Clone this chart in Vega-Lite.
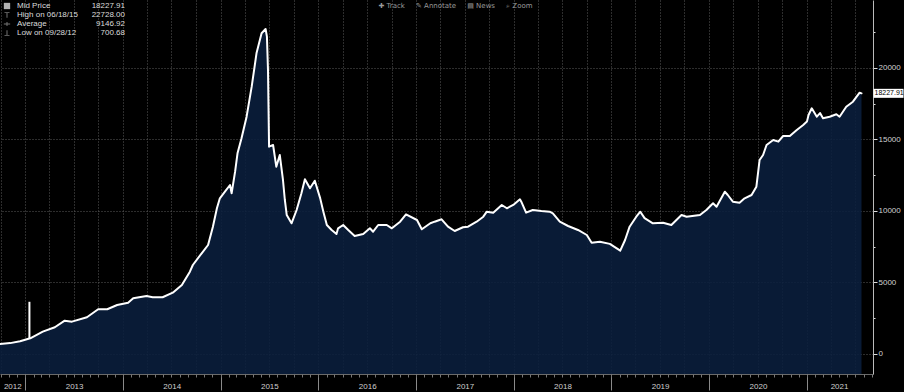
{
  "$schema": "https://vega.github.io/schema/vega-lite/v6.json",
  "width": 873,
  "height": 374,
  "autosize": {"type": "none"},
  "padding": {"left": 0, "top": 0, "right": 31, "bottom": 18},
  "background": "#000000",
  "config": {
    "view": {"stroke": null},
    "font": "Liberation Sans",
    "legend": {"padding": 0}
  },
  "datasets": {
    "series": [
      {"date": "2012-09-28", "price": 701},
      {"date": "2012-11-05", "price": 760},
      {"date": "2012-12-12", "price": 888},
      {"date": "2013-01-19", "price": 1097},
      {"date": "2013-03-07", "price": 1560},
      {"date": "2013-04-21", "price": 1867},
      {"date": "2013-05-28", "price": 2330},
      {"date": "2013-06-24", "price": 2260},
      {"date": "2013-08-19", "price": 2566},
      {"date": "2013-09-30", "price": 3126},
      {"date": "2013-11-03", "price": 3126},
      {"date": "2013-12-10", "price": 3426},
      {"date": "2014-01-20", "price": 3587},
      {"date": "2014-02-08", "price": 3895},
      {"date": "2014-03-30", "price": 4056},
      {"date": "2014-04-22", "price": 3965},
      {"date": "2014-05-29", "price": 3965},
      {"date": "2014-07-06", "price": 4287},
      {"date": "2014-08-09", "price": 4825},
      {"date": "2014-09-08", "price": 5755},
      {"date": "2014-09-19", "price": 6224},
      {"date": "2014-10-22", "price": 7042},
      {"date": "2014-11-15", "price": 7622},
      {"date": "2014-12-03", "price": 8902},
      {"date": "2014-12-18", "price": 10189},
      {"date": "2014-12-29", "price": 10889},
      {"date": "2015-01-17", "price": 11350},
      {"date": "2015-02-05", "price": 11818},
      {"date": "2015-02-11", "price": 11238},
      {"date": "2015-02-24", "price": 12748},
      {"date": "2015-03-05", "price": 14035},
      {"date": "2015-03-20", "price": 15084},
      {"date": "2015-04-08", "price": 16594},
      {"date": "2015-04-27", "price": 18692},
      {"date": "2015-05-15", "price": 21027},
      {"date": "2015-06-03", "price": 22426},
      {"date": "2015-06-18", "price": 22728},
      {"date": "2015-06-23", "price": 22190},
      {"date": "2015-06-27", "price": 19860},
      {"date": "2015-07-01", "price": 14500},
      {"date": "2015-07-16", "price": 14615},
      {"date": "2015-07-28", "price": 13098},
      {"date": "2015-08-10", "price": 13916},
      {"date": "2015-08-22", "price": 12168},
      {"date": "2015-08-29", "price": 10769},
      {"date": "2015-09-05", "price": 9720},
      {"date": "2015-09-23", "price": 9139},
      {"date": "2015-10-12", "price": 10070},
      {"date": "2015-10-30", "price": 11238},
      {"date": "2015-11-12", "price": 12216},
      {"date": "2015-12-01", "price": 11587},
      {"date": "2015-12-19", "price": 12118},
      {"date": "2016-01-08", "price": 10900},
      {"date": "2016-01-20", "price": 9951},
      {"date": "2016-02-02", "price": 9021},
      {"date": "2016-02-20", "price": 8671},
      {"date": "2016-03-09", "price": 8391},
      {"date": "2016-03-15", "price": 8790},
      {"date": "2016-04-03", "price": 9021},
      {"date": "2016-04-22", "price": 8671},
      {"date": "2016-05-16", "price": 8251},
      {"date": "2016-06-17", "price": 8391},
      {"date": "2016-07-12", "price": 8790},
      {"date": "2016-07-24", "price": 8552},
      {"date": "2016-08-12", "price": 9021},
      {"date": "2016-09-13", "price": 9021},
      {"date": "2016-10-02", "price": 8790},
      {"date": "2016-11-02", "price": 9252},
      {"date": "2016-11-24", "price": 9769},
      {"date": "2017-01-04", "price": 9370},
      {"date": "2017-01-22", "price": 8720},
      {"date": "2017-02-23", "price": 9139},
      {"date": "2017-03-11", "price": 9252},
      {"date": "2017-04-06", "price": 9419},
      {"date": "2017-04-30", "price": 8902},
      {"date": "2017-05-25", "price": 8601},
      {"date": "2017-06-25", "price": 8860},
      {"date": "2017-07-14", "price": 8902},
      {"date": "2017-08-15", "price": 9252},
      {"date": "2017-09-09", "price": 9601},
      {"date": "2017-09-22", "price": 9951},
      {"date": "2017-10-16", "price": 9881},
      {"date": "2017-11-17", "price": 10420},
      {"date": "2017-12-06", "price": 10189},
      {"date": "2017-12-30", "price": 10420},
      {"date": "2018-01-24", "price": 10818},
      {"date": "2018-01-29", "price": 10650},
      {"date": "2018-02-16", "price": 9881},
      {"date": "2018-03-13", "price": 10070},
      {"date": "2018-04-14", "price": 10000},
      {"date": "2018-05-15", "price": 9951},
      {"date": "2018-05-27", "price": 9839},
      {"date": "2018-06-22", "price": 9252},
      {"date": "2018-07-23", "price": 8950},
      {"date": "2018-08-29", "price": 8671},
      {"date": "2018-10-01", "price": 8321},
      {"date": "2018-10-19", "price": 7783},
      {"date": "2018-11-19", "price": 7853},
      {"date": "2018-12-26", "price": 7700},
      {"date": "2019-02-03", "price": 7224},
      {"date": "2019-02-21", "price": 7972},
      {"date": "2019-03-10", "price": 8902},
      {"date": "2019-04-04", "price": 9601},
      {"date": "2019-04-19", "price": 9951},
      {"date": "2019-05-05", "price": 9500},
      {"date": "2019-06-05", "price": 9139},
      {"date": "2019-07-13", "price": 9181},
      {"date": "2019-08-13", "price": 9021},
      {"date": "2019-09-20", "price": 9720},
      {"date": "2019-10-09", "price": 9601},
      {"date": "2019-11-28", "price": 9720},
      {"date": "2019-12-22", "price": 10070},
      {"date": "2020-01-16", "price": 10538},
      {"date": "2020-01-29", "price": 10300},
      {"date": "2020-02-29", "price": 11350},
      {"date": "2020-03-11", "price": 11119},
      {"date": "2020-03-30", "price": 10650},
      {"date": "2020-04-24", "price": 10580},
      {"date": "2020-05-13", "price": 10888},
      {"date": "2020-06-08", "price": 11119},
      {"date": "2020-06-26", "price": 11699},
      {"date": "2020-07-08", "price": 13566},
      {"date": "2020-07-21", "price": 13916},
      {"date": "2020-08-03", "price": 14615},
      {"date": "2020-08-28", "price": 14965},
      {"date": "2020-09-16", "price": 14850},
      {"date": "2020-10-04", "price": 15245},
      {"date": "2020-10-29", "price": 15245},
      {"date": "2020-11-24", "price": 15665},
      {"date": "2020-12-18", "price": 16014},
      {"date": "2021-01-01", "price": 16250},
      {"date": "2021-01-07", "price": 16713},
      {"date": "2021-01-19", "price": 17182},
      {"date": "2021-02-07", "price": 16594},
      {"date": "2021-02-19", "price": 16850},
      {"date": "2021-03-02", "price": 16482},
      {"date": "2021-03-27", "price": 16594},
      {"date": "2021-04-21", "price": 16762},
      {"date": "2021-05-03", "price": 16594},
      {"date": "2021-05-28", "price": 17293},
      {"date": "2021-06-22", "price": 17643},
      {"date": "2021-07-17", "price": 18273},
      {"date": "2021-07-24", "price": 18227.91}
    ],
    "spike": [{"date": "2013-01-16", "lo": 1050, "price": 3650}],
    "legendRows": [
      {"name": "Mid Price", "val": "18227.91"},
      {"name": "High on 06/18/15", "val": "22728.00"},
      {"name": "Average", "val": "9146.92"},
      {"name": "Low on 09/28/12", "val": "700.68"}
    ],
    "last": [{"date": "2021-07-24", "price": 18227.91, "label": "18227.91"}]
  },
  "resolve": {"axis": {"x": "independent"}},
  "encoding": {
    "y": {
      "field": "price",
      "type": "quantitative",
      "scale": {"domain": [-1400, 24755], "nice": false, "zero": false},
      "axis": {
        "orient": "right",
        "values": [0, 2500, 5000, 7500, 10000, 12500, 15000, 17500, 20000, 22500],
        "format": "d",
        "labelExpr": "datum.value % 5000 === 0 ? datum.label : ''",
        "tickSize": {"condition": {"test": "datum.value % 5000 === 0", "value": 4}, "value": 2},
        "tickColor": "#dddddd",
        "domainColor": "#bbbbbb",
        "labelColor": "#d0d0d0",
        "labelFontSize": 8,
        "labelPadding": 1,
        "labelFlush": false,
        "grid": true,
        "gridDash": [1, 2],
        "gridColor": "#5a5a5a",
        "gridOpacity": {"condition": {"test": "datum.value % 5000 === 0", "value": 1}, "value": 0},
        "title": null
      }
    }
  },
  "layer": [
    {
      "data": {"name": "series"},
      "mark": {"type": "area", "color": "#0a1f3d", "fillOpacity": 0.88},
      "encoding": {
        "x": {
          "field": "date",
          "type": "temporal",
          "scale": {
            "domain": [{"year": 2012, "month": 9, "date": 28}, {"year": 2021, "month": 9, "date": 5}],
            "nice": false
          },
          "axis": {
            "orient": "bottom",
            "values": [
              {"year": 2012, "month": 11, "date": 13},
              {"year": 2013, "month": 7, "date": 2},
              {"year": 2014, "month": 7, "date": 2},
              {"year": 2015, "month": 7, "date": 2},
              {"year": 2016, "month": 7, "date": 2},
              {"year": 2017, "month": 7, "date": 2},
              {"year": 2018, "month": 7, "date": 2},
              {"year": 2019, "month": 7, "date": 2},
              {"year": 2020, "month": 7, "date": 2},
              {"year": 2021, "month": 5, "date": 1}
            ],
            "format": "%Y",
            "ticks": false,
            "tickSize": 0,
            "labelPadding": 8,
            "labelFontSize": 8,
            "labelColor": "#cfcfcf",
            "labelFlush": false,
            "labelOverlap": false,
            "domain": true,
            "domainColor": "#6a6a6a",
            "grid": false,
            "title": null
          }
        },
        "y2": {"datum": -1400}
      }
    },
    {
      "data": {"name": "series"},
      "mark": {"type": "line", "color": "#ffffff", "strokeWidth": 2, "strokeJoin": "round", "strokeCap": "round"},
      "encoding": {
        "x": {
          "field": "date",
          "type": "temporal",
          "axis": {
            "orient": "bottom",
            "tickCount": {"interval": "month", "step": 3},
            "ticks": false,
            "labels": false,
            "domain": false,
            "grid": true,
            "gridDash": [1, 2],
            "gridColor": "#5a5a5a",
            "title": null
          }
        }
      }
    },
    {
      "data": {"name": "spike"},
      "mark": {"type": "rule", "color": "#ffffff", "strokeWidth": 2},
      "encoding": {
        "x": {
          "field": "date",
          "type": "temporal",
          "axis": {
            "orient": "bottom",
            "values": [
              {"year": 2013, "month": 1, "date": 1},
              {"year": 2014, "month": 1, "date": 1},
              {"year": 2015, "month": 1, "date": 1},
              {"year": 2016, "month": 1, "date": 1},
              {"year": 2017, "month": 1, "date": 1},
              {"year": 2018, "month": 1, "date": 1},
              {"year": 2019, "month": 1, "date": 1},
              {"year": 2020, "month": 1, "date": 1},
              {"year": 2021, "month": 1, "date": 1}
            ],
            "tickSize": 16,
            "tickColor": "#8a8a8a",
            "tickWidth": 1,
            "labels": false,
            "domain": false,
            "grid": false,
            "title": null
          }
        },
        "y2": {"field": "lo"}
      }
    },
    {
      "data": {"name": "legendRows"},
      "mark": {"type": "point", "filled": true},
      "encoding": {
        "x": {
          "field": "date",
          "type": "temporal",
          "axis": {
            "orient": "bottom",
            "tickCount": {"interval": "month", "step": 1},
            "tickSize": 3,
            "tickColor": "#777777",
            "labels": false,
            "domain": false,
            "grid": false,
            "title": null
          }
        },
        "shape": {
          "field": "name",
          "type": "nominal",
          "scale": {
            "domain": ["Mid Price", "High on 06/18/15", "Average", "Low on 09/28/12"],
            "range": [
              "square",
              "M-0.8,-0.9H0.8V-0.6H0.15V0.9H-0.15V-0.6H-0.8Z",
              "M-1,-0.12H-0.15V-0.6H0.15V-0.12H1V0.12H0.15V0.6H-0.15V0.12H-1Z",
              "M-0.15,-0.9H0.15V0.6H0.8V0.9H-0.8V0.6H-0.15Z"
            ]
          },
          "legend": {
            "orient": "none",
            "legendX": 3,
            "legendY": 2,
            "title": null,
            "labelFontSize": 8,
            "labelColor": "#dcdcdc",
            "symbolSize": 40,
            "symbolStrokeWidth": 0,
            "labelOffset": 6,
            "rowPadding": 1
          }
        },
        "color": {
          "field": "name",
          "type": "nominal",
          "scale": {
            "domain": ["Mid Price", "High on 06/18/15", "Average", "Low on 09/28/12"],
            "range": ["#ffffff", "#aaaaaa", "#aaaaaa", "#aaaaaa"]
          },
          "legend": {
            "orient": "none",
            "legendX": 3,
            "legendY": 2,
            "title": null,
            "labelFontSize": 8,
            "labelColor": "#dcdcdc",
            "symbolSize": 40,
            "symbolStrokeWidth": 0,
            "labelOffset": 6,
            "rowPadding": 1
          }
        },
        "size": {
          "field": "val",
          "type": "ordinal",
          "scale": {
            "domain": ["18227.91", "22728.00", "9146.92", "700.68"],
            "range": [1, 1, 1, 1]
          },
          "legend": {
            "orient": "none",
            "legendX": 60,
            "legendY": 2,
            "title": null,
            "labelFontSize": 8,
            "labelColor": "#dcdcdc",
            "labelAlign": "right",
            "labelOffset": 57,
            "symbolOpacity": 0,
            "rowPadding": 1
          }
        }
      }
    },
    {
      "data": {"name": "last"},
      "mark": {
        "type": "point",
        "filled": true,
        "color": "#ffffff",
        "opacity": 1,
        "size": 900,
        "shape": "M0.8,-0.3H2.8V0.3H0.8Z"
      },
      "encoding": {
        "x": {
          "field": "date",
          "type": "temporal",
          "axis": {
            "orient": "top",
            "ticks": false,
            "labels": false,
            "domain": false,
            "grid": false,
            "title": "✚ Track\u00a0\u00a0\u00a0\u00a0\u00a0✎ Annotate\u00a0\u00a0\u00a0\u00a0\u00a0▤ News\u00a0\u00a0\u00a0\u00a0\u00a0⌕ Zoom",
            "titleX": 455,
            "titleY": 8,
            "titleAnchor": "middle",
            "titleAlign": "center",
            "titleBaseline": "bottom",
            "titleFontSize": 7,
            "titleFont": "DejaVu Sans",
            "titleFontWeight": "normal",
            "titleColor": "#9a9a9a"
          }
        }
      }
    },
    {
      "data": {"name": "last"},
      "mark": {"type": "text", "color": "#000000", "fontSize": 7, "align": "left", "baseline": "middle", "dx": 13},
      "encoding": {
        "x": {"field": "date", "type": "temporal", "axis": null},
        "text": {"field": "label"}
      }
    }
  ]
}
